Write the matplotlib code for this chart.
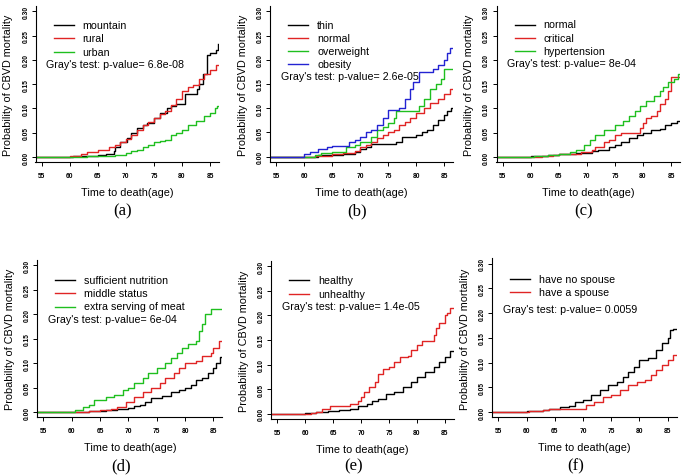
import matplotlib

matplotlib.use("Agg")
import matplotlib.pyplot as plt  # noqa: E402

W, H = 686, 477
RED = "#e02424"
GREEN = "#1fbf1f"
BLUE = "#2323d2"
BLACK = "#000000"
END_AGE = 86.45  # curves run on to the right edge of the plot

plt.rcParams["font.family"] = ["Liberation Sans", "DejaVu Sans"]

# ---- (a) residence -------------------------------------------------------
a_mountain_age = [54, 60.5, 63, 65, 66.5, 67.8, 68.1, 69, 70.2, 71, 72, 73, 73.7, 75,
                  76, 77.3, 78, 79, 80.5, 82.6, 83, 83.8, 84.4, 85, 86, 86.4]
a_mountain_val = [0, 0.002, 0.003, 0.005, 0.007, 0.012, 0.02, 0.03, 0.04, 0.05, 0.06,
                  0.065, 0.07, 0.08, 0.09, 0.1, 0.105, 0.11, 0.13, 0.14, 0.15, 0.17,
                  0.21, 0.215, 0.22, 0.233]
a_rural_age = [54, 60, 62, 63, 65, 67, 68, 69, 70, 71, 72, 73, 74, 75, 76, 77, 78, 79,
               80, 81, 82, 83, 84, 85, 86]
a_rural_val = [0, 0.003, 0.006, 0.01, 0.015, 0.02, 0.025, 0.03, 0.037, 0.045, 0.055,
               0.065, 0.072, 0.08, 0.088, 0.095, 0.107, 0.12, 0.135, 0.145, 0.148,
               0.16, 0.17, 0.18, 0.19]
a_urban_age = [54, 63, 68, 70, 71, 72, 73, 74, 75, 76, 77, 78, 79, 80, 81, 82.5, 84,
               85, 85.8, 86.3]
a_urban_val = [0, 0.003, 0.005, 0.008, 0.012, 0.015, 0.02, 0.025, 0.03, 0.032, 0.035,
               0.045, 0.05, 0.055, 0.065, 0.075, 0.085, 0.09, 0.1, 0.105]

# ---- (b) BMI -------------------------------------------------------------
b_thin_age = [54, 62.5, 67, 69, 70, 71, 72, 76.5, 77.5, 80, 81, 82, 83, 84, 85, 85.5, 86.2]
b_thin_val = [0, 0.003, 0.005, 0.01, 0.015, 0.02, 0.027, 0.03, 0.04, 0.045, 0.05,
              0.055, 0.065, 0.075, 0.085, 0.095, 0.1]
b_normal_age = [54, 62, 65, 67, 69, 70, 71, 72, 73, 74, 75, 76, 77, 78, 79, 80, 81.5,
                82.5, 84, 85, 86]
b_normal_val = [0, 0.002, 0.005, 0.008, 0.012, 0.02, 0.025, 0.03, 0.038, 0.045, 0.05,
                0.055, 0.065, 0.072, 0.08, 0.09, 0.1, 0.11, 0.12, 0.13, 0.14]
b_over_age = [54, 62, 63, 65, 67.5, 69, 70, 72, 73, 74, 75, 76, 76.5, 80.5, 81.5, 82.5,
              83.5, 84.5, 85]
b_over_val = [0, 0.003, 0.007, 0.01, 0.02, 0.025, 0.03, 0.04, 0.055, 0.062, 0.07, 0.08,
              0.094, 0.105, 0.12, 0.14, 0.15, 0.16, 0.18]
b_obes_age = [54, 60, 61, 62.5, 64, 65, 68, 69, 70, 71, 72, 73, 74, 75, 77, 78, 79,
              79.5, 80.5, 83, 84, 85, 85.5, 86]
b_obes_val = [0, 0.005, 0.01, 0.015, 0.02, 0.023, 0.03, 0.035, 0.04, 0.05, 0.055,
              0.065, 0.08, 0.097, 0.1, 0.12, 0.14, 0.155, 0.175, 0.18, 0.19, 0.2,
              0.215, 0.225]

# ---- (c) blood pressure --------------------------------------------------
c_normal_age = [54, 60, 63, 65, 68, 71, 72, 74, 75, 76, 77.5, 79, 80, 81.5, 83, 84,
                85, 86]
c_normal_val = [0, 0.002, 0.005, 0.007, 0.009, 0.012, 0.015, 0.02, 0.025, 0.03, 0.04,
                0.045, 0.05, 0.055, 0.058, 0.065, 0.07, 0.075]
c_crit_age = [54, 62, 64, 65, 69, 71, 71.5, 73, 74, 75, 76, 79.5, 80, 80.5, 81.5, 82.5,
              83, 84, 84.5, 85]
c_crit_val = [0, 0.002, 0.005, 0.007, 0.01, 0.015, 0.02, 0.03, 0.035, 0.045, 0.05,
              0.06, 0.07, 0.08, 0.085, 0.095, 0.11, 0.12, 0.135, 0.165]
c_hyper_age = [54, 60.5, 63, 65, 67, 68, 69.5, 70.5, 71.5, 73, 75, 76.5, 77.5, 78.5,
               79.5, 80.5, 82, 83, 83.5, 84.5, 85.5, 86.2]
c_hyper_val = [0, 0.002, 0.004, 0.007, 0.01, 0.015, 0.025, 0.035, 0.045, 0.055, 0.065,
               0.075, 0.085, 0.095, 0.105, 0.115, 0.125, 0.135, 0.145, 0.155, 0.16,
               0.17]

# ---- (d) nutrition -------------------------------------------------------
d_suff_age = [54, 63, 66, 68, 70, 71, 72, 73, 74, 76, 77.5, 79, 80, 81, 82, 83, 84,
              85, 85.5, 86.2]
d_suff_val = [0, 0.002, 0.004, 0.006, 0.008, 0.012, 0.015, 0.02, 0.028, 0.033, 0.04,
              0.045, 0.05, 0.055, 0.065, 0.07, 0.08, 0.09, 0.1, 0.112]
d_mid_age = [54, 63, 65, 67, 68, 69.5, 71, 72.5, 74, 75.5, 76.5, 78, 79, 80, 82, 83,
             84.5, 85, 86]
d_mid_val = [0, 0.002, 0.004, 0.006, 0.01, 0.02, 0.03, 0.04, 0.05, 0.06, 0.07, 0.08,
             0.09, 0.1, 0.105, 0.115, 0.12, 0.13, 0.145]
d_meat_age = [54, 60.5, 62, 63, 64, 66, 67.5, 69, 70, 71, 72.5, 73.5, 75, 76.5, 77.5,
              78.5, 79.5, 80.5, 82, 82.5, 83, 83.5, 84.5]
d_meat_val = [0, 0.005, 0.01, 0.015, 0.025, 0.03, 0.035, 0.045, 0.05, 0.06, 0.07, 0.08,
              0.09, 0.1, 0.11, 0.12, 0.13, 0.14, 0.145, 0.165, 0.18, 0.2, 0.21]

# ---- (e) health status ---------------------------------------------------
e_healthy_age = [54, 60, 62, 64, 66, 68, 69.5, 71, 72, 73, 74.5, 76, 77.5, 79, 80,
                 81.5, 83, 84, 85, 86]
e_healthy_val = [0, 0.002, 0.003, 0.005, 0.008, 0.01, 0.015, 0.02, 0.025, 0.03, 0.04,
                 0.045, 0.055, 0.065, 0.075, 0.085, 0.095, 0.105, 0.115, 0.128]
e_unhealthy_age = [54, 61, 62, 63, 64.5, 68, 69.5, 70, 70.5, 71.5, 72.5, 73, 74, 75,
                   76, 77, 78.5, 79, 80, 81, 83, 83.5, 84, 85, 85.5, 86]
e_unhealthy_val = [0, 0.002, 0.003, 0.01, 0.015, 0.02, 0.025, 0.035, 0.045, 0.055,
                   0.065, 0.08, 0.09, 0.095, 0.105, 0.115, 0.118, 0.13, 0.14, 0.148,
                   0.16, 0.175, 0.185, 0.2, 0.205, 0.215]

# ---- (f) marital status --------------------------------------------------
f_nospouse_age = [54, 60, 63, 64, 66, 67.5, 68.5, 70, 71.5, 73, 74.5, 76, 77, 78, 79,
                  80, 81.5, 83, 84, 85, 85.5, 86]
f_nospouse_val = [0, 0.002, 0.004, 0.007, 0.01, 0.012, 0.02, 0.025, 0.035, 0.045,
                  0.055, 0.06, 0.07, 0.08, 0.09, 0.105, 0.11, 0.125, 0.14, 0.15, 0.165,
                  0.168]
f_spouse_age = [54, 60.5, 63, 64, 68, 69.5, 70.5, 72, 73.5, 75, 76.5, 78, 79.5, 81,
                82, 83, 84, 85, 86]
f_spouse_val = [0, 0.002, 0.003, 0.005, 0.006, 0.007, 0.015, 0.02, 0.03, 0.035, 0.045,
                0.055, 0.06, 0.065, 0.075, 0.085, 0.095, 0.105, 0.115]

panels = [
    # box (left, top, right, bottom) px, series, legend top, gray gap, p text, caption
    ((35.5, 7, 219, 163.3),
     [(a_mountain_age, a_mountain_val, BLACK, "mountain"),
      (a_rural_age, a_rural_val, RED, "rural"),
      (a_urban_age, a_urban_val, GREEN, "urban")],
     19, 12, "Gray's test: p-value= 6.8e-08", "(a)", (123, 211)),
    ((270.2, 7, 452.9, 163),
     [(b_thin_age, b_thin_val, BLACK, "thin"),
      (b_normal_age, b_normal_val, RED, "normal"),
      (b_over_age, b_over_val, GREEN, "overweight"),
      (b_obes_age, b_obes_val, BLUE, "obesity")],
     18.5, 12, "Gray's test: p-value= 2.6e-05", "(b)", (357, 211)),
    ((496.5, 7, 680, 163.3),
     [(c_normal_age, c_normal_val, BLACK, "normal"),
      (c_crit_age, c_crit_val, RED, "critical"),
      (c_hyper_age, c_hyper_val, GREEN, "hypertension")],
     18.5, 12, "Gray's test: p-value= 8e-04", "(c)", (584, 211)),
    ((37.1, 260.9, 222.4, 418.4),
     [(d_suff_age, d_suff_val, BLACK, "sufficient nutrition"),
      (d_mid_age, d_mid_val, RED, "middle status"),
      (d_meat_age, d_meat_val, GREEN, "extra serving of meat")],
     20, 12.5, "Gray's test: p-value= 6e-04", "(d)", (121, 466)),
    ((271.2, 261.9, 453.6, 420.1),
     [(e_healthy_age, e_healthy_val, BLACK, "healthy"),
      (e_unhealthy_age, e_unhealthy_val, RED, "unhealthy")],
     19.5, 12.5, "Gray's test: p-value= 1.4e-05", "(e)", (354, 466)),
    ((492.1, 259.3, 676.7, 418.4),
     [(f_nospouse_age, f_nospouse_val, BLACK, "have no spouse"),
      (f_spouse_age, f_spouse_val, RED, "have a spouse")],
     20.4, 17, "Gray's test: p-value= 0.0059", "(f)", (576, 466)),
]

fig = plt.figure(figsize=(W / 100, H / 100), dpi=100)

for box, series, leg_top, gray_gap, ptext, cap, (cx, cy) in panels:
    l, t, r, b = box
    pw, ph = r - l, b - t
    ax = fig.add_axes([l / W, 1 - b / H, pw / W, ph / H])
    for ages, vals, color, label in series:
        ax.plot(list(ages) + [END_AGE], list(vals) + [vals[-1]],
                drawstyle="steps-post", color=color, lw=1.0)
    ax.set_xlim(53.9, 86.6)
    ax.set_ylim(-0.011, 0.311)
    ax.spines["top"].set_visible(False)
    ax.spines["right"].set_visible(False)
    ax.spines["left"].set_linewidth(0.8)
    ax.spines["bottom"].set_linewidth(0.8)
    ax.set_xticks([55, 60, 65, 70, 75, 80, 85])
    ax.set_yticks([0, 0.05, 0.10, 0.15, 0.20, 0.25, 0.30])
    ax.set_yticklabels(["0.00", "0.05", "0.10", "0.15", "0.20", "0.25", "0.30"])
    ax.tick_params(length=3, width=0.7, labelsize=4.8)
    ax.tick_params(axis="x", pad=4)
    ax.tick_params(axis="y", pad=1.5, labelrotation=90)
    for lab in ax.get_xticklabels() + ax.get_yticklabels():
        lab.set_fontweight("bold")
    for lab in ax.get_yticklabels():
        lab.set_va("center")

    ax.text(0.5, -29.5 / ph, "Time to death(age)", transform=ax.transAxes,
            ha="center", va="center", fontsize=7.8)
    ax.text(-27.5 / pw, 0.5, "Probability of CBVD mortality", transform=ax.transAxes,
            ha="center", va="center", rotation=90, fontsize=7.8)

    # hand-drawn legend like R's legend(bty="n")
    for i, (_, _, color, label) in enumerate(series):
        y = 1 - (leg_top + i * 13.3) / ph
        ax.plot([18 / pw, 38 / pw], [y, y], transform=ax.transAxes, color=color,
                lw=1.0, clip_on=False)
        ax.text(47 / pw, y, label, transform=ax.transAxes, ha="left", va="center",
                fontsize=7.7)
    gy = 1 - (leg_top + (len(series) - 1) * 13.3 + gray_gap) / ph
    ax.text(10.5 / pw, gy, ptext, transform=ax.transAxes, ha="left", va="center",
            fontsize=7.7)

    fig.text(cx / W, 1 - cy / H, cap, ha="center", va="center", fontsize=12,
             family=["Liberation Serif", "DejaVu Serif"])

fig.savefig("out.png", dpi=100)
